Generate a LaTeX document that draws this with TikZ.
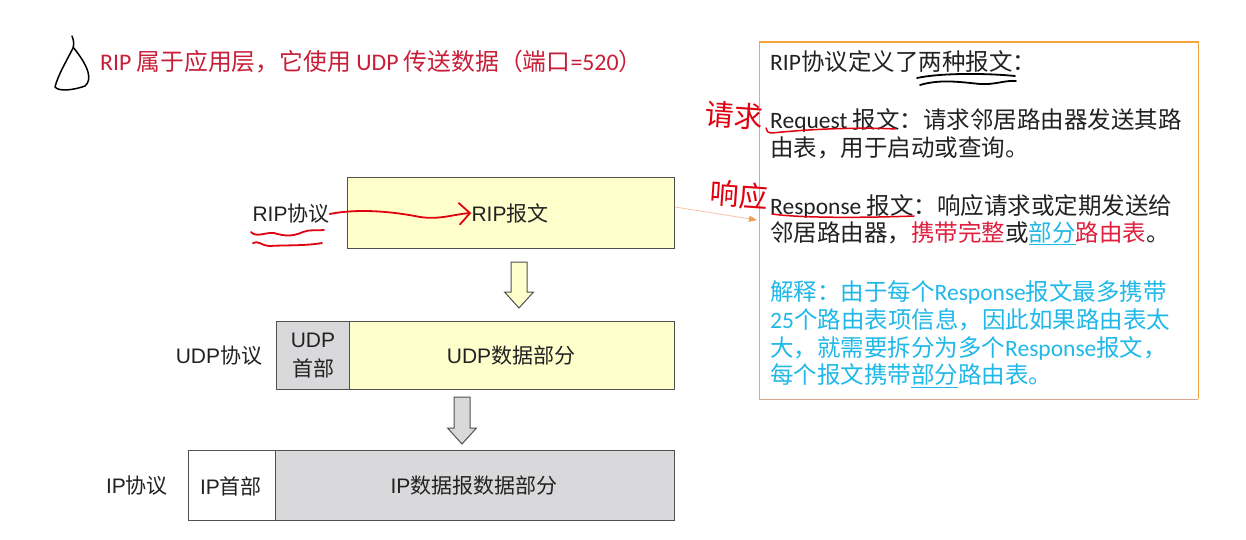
\documentclass[tikz,border=0pt]{standalone}
\usepackage{fontspec}
\setmainfont{Noto Sans CJK SC}
\newfontfamily\fAr{Liberation Sans}
\newfontfamily\fCal{Carlito}
\usetikzlibrary{arrows.meta}
\definecolor{boxline}{HTML}{505050}
\definecolor{yel}{HTML}{FFFFCC}
\definecolor{gry}{HTML}{D9D9DB}
\definecolor{titlered}{RGB}{200,30,55}
\definecolor{penred}{HTML}{E00010}
\definecolor{cyanT}{HTML}{20B8E8}
\definecolor{redT}{HTML}{E02040}
\definecolor{orgB}{HTML}{F5A33C}
\definecolor{tanB}{HTML}{D8A890}
\definecolor{salmon}{HTML}{F8C4AC}
\definecolor{tipO}{HTML}{F0A050}
\definecolor{txt}{HTML}{222222}
\tikzset{
  blk/.style={draw=boxline, line width=1pt, inner sep=0pt, anchor=north west},
  lbl/.style={inner sep=0pt, font=\fontsize{21}{29}\selectfont, text=txt},
  rtxt/.style={inner sep=0pt, anchor=west, font=\fontsize{23.5}{28}\selectfont, text=txt},
  pen/.style={penred, line width=1.8pt, line cap=round, line join=round},
  bpen/.style={black, line width=1.8pt, line cap=round, line join=round},
  blockarrow/.style={draw=boxline, line width=1pt, line join=miter},
}
\begin{document}
\begin{tikzpicture}[x=1pt,y=-1pt]
\useasboundingbox[fill=white] (0,0) rectangle (1246,540);

% title
\node[inner sep=0pt, anchor=west, text=titlered, font=\fontsize{23.8}{27}\selectfont] (title) at (100,62)
  {{\fCal RIP }属于应用层，它使用{\fCal{} UDP }传送数据（端口{\fCal =520}）};
% hand-drawn mark
\draw[bpen, line width=1.5pt] (72,36) .. controls (74,41) and (74,44) .. (73,48)
  .. controls (66,62) and (58,75) .. (55,87)
  .. controls (59,92) and (74,90) .. (85,86)
  .. controls (92,80) and (90,68) .. (73,47);

% RIP box
\node[blk, fill=yel, minimum width=327pt, minimum height=71pt] (rip) at (347,177) {};
\node[lbl] (ripmsg) at (510,213) {{\fAr RIP}报文};
\node[lbl] (riplbl) at (291,214) {{\fAr RIP}协议};

% arrow 1
\draw[blockarrow, fill=yel] (511,262) -- (527,262) -- (527,292) -- (533.5,292) -- (519,308)
  -- (504.5,292) -- (511,292) -- cycle;

% UDP
\node[blk, fill=gry, minimum width=73pt, minimum height=68pt] (udph) at (276,321) {};
\node[blk, fill=yel, minimum width=325pt, minimum height=68pt] (udpd) at (349,321) {};
\node[lbl, align=center] (udphtxt) at (313,355.5) {{\fAr UDP}\\首部};
\node[lbl] (udpdtxt) at (511,356) {{\fAr UDP}数据部分};
\node[lbl] (udplbl) at (219,356) {{\fAr UDP}协议};

% arrow 2
\draw[blockarrow, fill=gry] (454,397) -- (470,397) -- (470,428) -- (476.5,428) -- (462,444)
  -- (447.5,428) -- (454,428) -- cycle;

% IP
\node[blk, fill=white, minimum width=87pt, minimum height=70pt] (iph) at (188,450) {};
\node[blk, fill=gry, minimum width=399pt, minimum height=70pt] (ipd) at (275,450) {};
\node[lbl] (iphtxt) at (231,486) {{\fAr IP}首部};
\node[lbl] (ipdtxt) at (474,486) {{\fAr IP}数据报数据部分};
\node[lbl] (iplbl) at (137,486) {{\fAr IP}协议};

% right box
\node[inner sep=0pt, anchor=north west, minimum width=439pt, minimum height=357pt] (rbox) at (759,42) {};
\draw[tanB, line width=1pt] (rbox.north west) -- (rbox.south west) -- (rbox.south east);
\draw[orgB, line width=1.2pt] (rbox.north west) -- (rbox.north east) -- (rbox.south east);

\node[rtxt] (r1) at (770,62) {{\fCal RIP}协议定义了两种报文：};
\node[rtxt] (r2) at (770,120) {{\fCal Request }报文：请求邻居路由器发送其路};
\node[rtxt] (r3) at (770,148) {由表，用于启动或查询。};
\node[rtxt] (r4) at (770,206) {{\fCal Response }报文：响应请求或定期发送给};
\node[rtxt] (r5) at (770,233) {邻居路由器，{\color{redT}携带完整}或{\color{cyanT}\underline{部分}}{\color{redT}路由表}。};
\node[rtxt, text=cyanT] (r6) at (770,292) {解释：由于每个{\fCal Response}报文最多携带};
\node[rtxt, text=cyanT] (r7) at (770,320) {{\fCal 25}个路由表项信息，因此如果路由表太};
\node[rtxt, text=cyanT] (r8) at (770,348) {大，就需要拆分为多个{\fCal Response}报文，};
\node[rtxt, text=cyanT] (r9) at (770,376) {每个报文携带\underline{部分}路由表。};

% connector RIP box -> right box
\coordinate (c1) at (675,207);
\coordinate (c2) at (757,220);
\draw[salmon, line width=0.8pt, -{Triangle[length=8pt,width=6pt,color=tipO]}] (c1) -- (c2);

% handwriting
\node[inner sep=0pt, text=penred, rotate=-4, font=\fontsize{29}{30}\selectfont] (hw1) at (734,116) {请求};
\node[inner sep=0pt, text=penred, rotate=-4, font=\fontsize{29}{30}\selectfont] (hw2) at (739,195) {响应};

% red arrow RIP协议 -> RIP报文
\draw[pen, -{Straight Barb[length=11pt,width=22pt,line width=1.8pt]}]
  (riplbl.east) .. controls (360,208) and (395,212) .. (420,217)
  .. controls (440,220) and (455,214) .. (ripmsg.west);
% wavy underlines
\draw[pen] (251,232) .. controls (256,238) and (266,232) .. (274,233)
  .. controls (284,236) and (292,237) .. (303,232) .. controls (310,229) and (318,231) .. (324,230);
\draw[pen] (253,243) .. controls (258,240) and (262,246) .. (270,246)
  .. controls (285,245) and (305,246) .. (322,243);

% hand underlines in right box
\draw[bpen] (917,78) .. controls (940,73) and (985,73) .. (1015,76);
\draw[bpen] (920,85) .. controls (940,79) and (960,82) .. (980,84) .. controls (995,85) and (1005,80) .. (1016,81);
\draw[pen, line width=1.5pt] (766,128) .. controls (766,131) and (768,133) .. (772,133)
  .. controls (810,129) and (860,127) .. (895,129);
\draw[pen, line width=1.5pt] (772,214) .. controls (800,218) and (860,218) .. (914,216);
\end{tikzpicture}
\end{document}
